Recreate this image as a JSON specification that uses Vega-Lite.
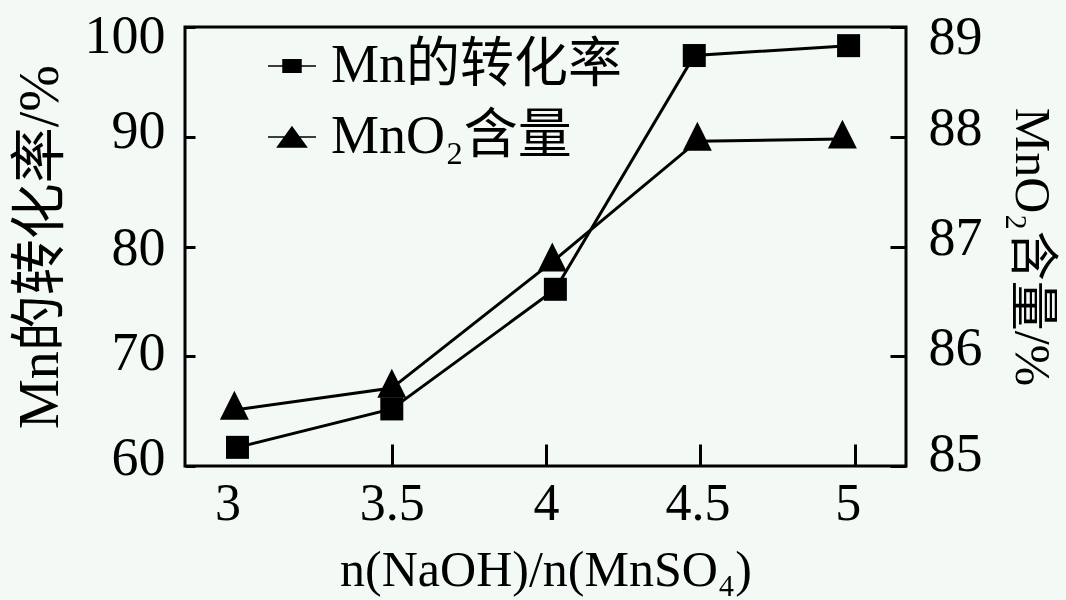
{
  "$schema": "https://vega.github.io/schema/vega-lite/v6.json",
  "width": 721,
  "height": 439,
  "autosize": {"type": "none"},
  "padding": {"left": 185, "top": 27, "right": 160, "bottom": 134},
  "background": "#f3f9f4",
  "config": {
    "font": "'Liberation Serif', 'Noto Sans CJK SC', serif",
    "view": {"stroke": "black", "strokeWidth": 3},
    "axis": {
      "grid": false,
      "domain": false,
      "tickColor": "black",
      "tickWidth": 3,
      "labelColor": "black",
      "titleColor": "black",
      "labelFont": "'Liberation Serif', serif",
      "titleFont": "'Liberation Serif', 'Noto Sans CJK SC', serif",
      "labelFontSize": 54,
      "titleFontWeight": "normal",
      "labelFlush": false,
      "labelOverlap": false
    },
    "legend": {
      "orient": "none",
      "legendX": 80,
      "legendY": 12,
      "padding": 0,
      "labelFont": "'Liberation Serif', 'Noto Sans CJK SC', serif",
      "labelFontSize": 54,
      "labelColor": "black",
      "labelLimit": 0,
      "labelOffset": 12,
      "rowPadding": 17,
      "symbolSize": 324,
      "symbolOpacity": 1
    }
  },
  "data": {
    "values": [
      {"s": "Mn的转化率", "r": 3.0, "v": 61.7},
      {"s": "Mn的转化率", "r": 3.5, "v": 65.2},
      {"s": "Mn的转化率", "r": 4.03, "v": 76.1},
      {"s": "Mn的转化率", "r": 4.48, "v": 97.4},
      {"s": "Mn的转化率", "r": 4.98, "v": 98.3},
      {"s": "MnO₂含量", "r": 2.99, "v": 85.51},
      {"s": "MnO₂含量", "r": 3.5, "v": 85.71},
      {"s": "MnO₂含量", "r": 4.02, "v": 86.86},
      {"s": "MnO₂含量", "r": 4.49, "v": 87.96},
      {"s": "MnO₂含量", "r": 4.96, "v": 87.98}
    ]
  },
  "encoding": {
    "x": {
      "field": "r",
      "type": "quantitative",
      "scale": {"domain": [2.83, 5.166], "nice": false, "zero": false},
      "axis": {
        "values": [3, 3.5, 4, 4.5, 5],
        "format": "~g",
        "offset": -22,
        "tickSize": 22,
        "labelPadding": 12,
        "labelFontSize": 52,
        "labelOffset": {"condition": [{"test": "datum.value === 3", "value": -10}, {"test": "datum.value === 5", "value": -7}, {"test": "datum.value === 4.5", "value": -3}], "value": 0},
        "title": "n(NaOH)/n(MnSO₄)",
        "titleFontSize": 50,
        "titlePadding": 16,
        "tickOpacity": {"condition": {"test": "datum.value === 3", "value": 0}, "value": 1}
      }
    }
  },
  "layer": [
    {
      "transform": [{"filter": "datum.s === 'Mn的转化率'"}],
      "encoding": {
        "y": {
          "field": "v",
          "type": "quantitative",
          "scale": {"domain": [60, 100], "nice": false, "zero": false},
          "axis": {
            "orient": "left",
            "title": "Mn的转化率/%",
            "values": [60, 70, 80, 90, 100],
            "offset": -10,
            "tickSize": 10,
            "labelPadding": 20,
            "labelOffset": {"condition": [{"test": "datum.value === 100", "value": 9}, {"test": "datum.value === 60", "value": -8}, {"test": "datum.value === 90", "value": -5}, {"test": "datum.value === 70", "value": -3}], "value": 2},
            "titleFontSize": 56,
            "titlePadding": 15
          }
        }
      },
      "layer": [
        {"mark": {"type": "line", "color": "black", "strokeWidth": 3}},
        {"mark": {"type": "point", "filled": true, "opacity": 1, "color": "black", "shape": "square", "size": 529}}
      ]
    },
    {
      "transform": [{"filter": "datum.s === 'MnO₂含量'"}],
      "encoding": {
        "y": {
          "field": "v",
          "type": "quantitative",
          "scale": {"domain": [85, 89], "nice": false, "zero": false},
          "axis": {
            "orient": "right",
            "title": "MnO₂含量/%",
            "values": [85, 86, 87, 88, 89],
            "offset": -16,
            "tickSize": 16,
            "labelPadding": 22,
            "labelOffset": {"condition": [{"test": "datum.value === 89", "value": 10}, {"test": "datum.value === 85", "value": -12}], "value": -8},
            "titleFontSize": 50,
            "titlePadding": 23
          }
        }
      },
      "layer": [
        {"mark": {"type": "line", "color": "black", "strokeWidth": 3}},
        {"mark": {"type": "point", "filled": true, "opacity": 1, "color": "black", "shape": "M0,-1.68L1.26,0.84L-1.26,0.84Z", "size": 529}}
      ]
    },
    {
      "transform": [{"filter": "false"}],
      "mark": {"type": "point", "filled": true, "opacity": 1, "color": "black", "stroke": "black", "strokeWidth": 3, "size": 324},
      "encoding": {
        "shape": {
          "field": "s",
          "type": "nominal",
          "scale": {
            "domain": ["Mn的转化率", "MnO₂含量"],
            "range": ["M-2.67,0H2.67M-1,-0.7H1V0.7H-1Z", "M-2.67,0H2.67M0,-1.1L1.6,1.1L-1.6,1.1Z"]
          },
          "legend": {"title": null}
        }
      }
    }
  ],
  "resolve": {"scale": {"y": "independent"}}
}
